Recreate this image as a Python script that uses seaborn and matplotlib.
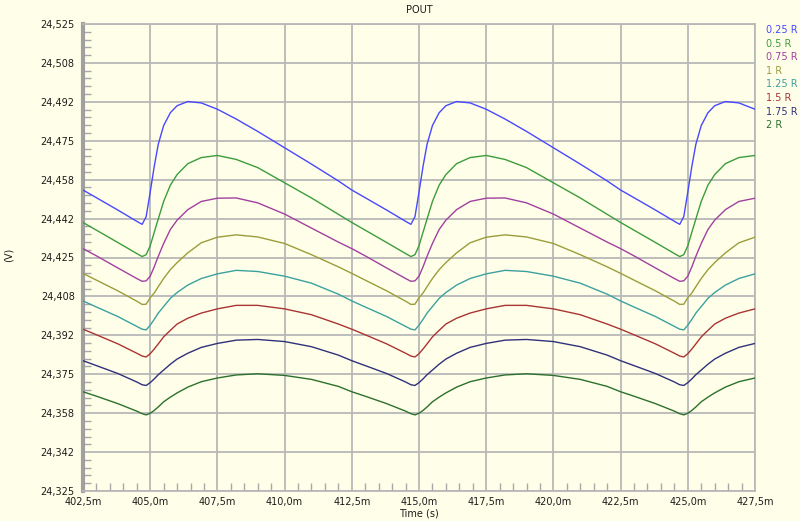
import numpy as np
import pandas as pd
import matplotlib
matplotlib.use('Agg')
import matplotlib.pyplot as plt
from matplotlib.ticker import AutoMinorLocator, FixedLocator
import seaborn as sns


# time axis in ms (denser around the switching dips)
TIME_MS = [
    402.5, 403.0, 403.8, 404.5, 404.7, 404.85, 405.0, 405.15, 405.3, 405.5,
    405.75, 406.0, 406.4, 406.9, 407.5, 408.2, 409.0, 410.0, 411.0, 412.0,
    412.5, 413.0, 413.8, 414.5, 414.7, 414.85, 415.0, 415.15, 415.3, 415.5,
    415.75, 416.0, 416.4, 416.9, 417.5, 418.2, 419.0, 420.0, 421.0, 422.0,
    422.5, 423.0, 423.8, 424.5, 424.7, 424.85, 425.0, 425.15, 425.3, 425.5,
    425.75, 426.0, 426.4, 426.9, 427.5,
]

# POUT (V) for each load
V_025R = [
    24.4539, 24.4506, 24.4453, 24.4405, 24.4392, 24.4425, 24.4530, 24.4640, 24.4735, 24.4815,
    24.4870, 24.4900, 24.4918, 24.4912, 24.4885, 24.4843, 24.4790, 24.4720, 24.4650, 24.4578,
    24.4539, 24.4506, 24.4453, 24.4405, 24.4392, 24.4425, 24.4530, 24.4640, 24.4735, 24.4815,
    24.4870, 24.4900, 24.4918, 24.4912, 24.4885, 24.4843, 24.4790, 24.4720, 24.4650, 24.4578,
    24.4539, 24.4506, 24.4453, 24.4405, 24.4392, 24.4425, 24.4530, 24.4640, 24.4735, 24.4815,
    24.4870, 24.4900, 24.4918, 24.4912, 24.4885,
]
V_05R = [
    24.4400, 24.4367, 24.4314, 24.4267, 24.4254, 24.4262, 24.4300, 24.4358, 24.4415, 24.4490,
    24.4560, 24.4605, 24.4652, 24.4678, 24.4687, 24.4670, 24.4635, 24.4570, 24.4505, 24.4435,
    24.4400, 24.4367, 24.4314, 24.4267, 24.4254, 24.4262, 24.4300, 24.4358, 24.4415, 24.4490,
    24.4560, 24.4605, 24.4652, 24.4678, 24.4687, 24.4670, 24.4635, 24.4570, 24.4505, 24.4435,
    24.4400, 24.4367, 24.4314, 24.4267, 24.4254, 24.4262, 24.4300, 24.4358, 24.4415, 24.4490,
    24.4560, 24.4605, 24.4652, 24.4678, 24.4687,
]
V_075R = [
    24.4288, 24.4257, 24.4205, 24.4160, 24.4148, 24.4150, 24.4170, 24.4210, 24.4255, 24.4310,
    24.4370, 24.4410, 24.4455, 24.4490, 24.4504, 24.4505, 24.4484, 24.4436, 24.4376, 24.4316,
    24.4288, 24.4257, 24.4205, 24.4160, 24.4148, 24.4150, 24.4170, 24.4210, 24.4255, 24.4310,
    24.4370, 24.4410, 24.4455, 24.4490, 24.4504, 24.4505, 24.4484, 24.4436, 24.4376, 24.4316,
    24.4288, 24.4257, 24.4205, 24.4160, 24.4148, 24.4150, 24.4170, 24.4210, 24.4255, 24.4310,
    24.4370, 24.4410, 24.4455, 24.4490, 24.4504,
]
V_1R = [
    24.4182, 24.4153, 24.4107, 24.4063, 24.4049, 24.4050, 24.4078, 24.4098, 24.4125, 24.4160,
    24.4198, 24.4228, 24.4270, 24.4313, 24.4337, 24.4347, 24.4338, 24.4310, 24.4262, 24.4210,
    24.4182, 24.4153, 24.4107, 24.4063, 24.4049, 24.4050, 24.4078, 24.4098, 24.4125, 24.4160,
    24.4198, 24.4228, 24.4270, 24.4313, 24.4337, 24.4347, 24.4338, 24.4310, 24.4262, 24.4210,
    24.4182, 24.4153, 24.4107, 24.4063, 24.4049, 24.4050, 24.4078, 24.4098, 24.4125, 24.4160,
    24.4198, 24.4228, 24.4270, 24.4313, 24.4337,
]
V_125R = [
    24.4064, 24.4038, 24.3997, 24.3955, 24.3943, 24.3940, 24.3960, 24.3985, 24.4012, 24.4040,
    24.4075, 24.4100, 24.4132, 24.4160, 24.4180, 24.4195, 24.4190, 24.4170, 24.4140, 24.4093,
    24.4064, 24.4038, 24.3997, 24.3955, 24.3943, 24.3940, 24.3960, 24.3985, 24.4012, 24.4040,
    24.4075, 24.4100, 24.4132, 24.4160, 24.4180, 24.4195, 24.4190, 24.4170, 24.4140, 24.4093,
    24.4064, 24.4038, 24.3997, 24.3955, 24.3943, 24.3940, 24.3960, 24.3985, 24.4012, 24.4040,
    24.4075, 24.4100, 24.4132, 24.4160, 24.4180,
]
V_15R = [
    24.3943, 24.3919, 24.3880, 24.3840, 24.3828, 24.3824, 24.3838, 24.3858, 24.3880, 24.3910,
    24.3938, 24.3965, 24.3990, 24.4012, 24.4030, 24.4045, 24.4045, 24.4030, 24.4005, 24.3965,
    24.3943, 24.3919, 24.3880, 24.3840, 24.3828, 24.3824, 24.3838, 24.3858, 24.3880, 24.3910,
    24.3938, 24.3965, 24.3990, 24.4012, 24.4030, 24.4045, 24.4045, 24.4030, 24.4005, 24.3965,
    24.3943, 24.3919, 24.3880, 24.3840, 24.3828, 24.3824, 24.3838, 24.3858, 24.3880, 24.3910,
    24.3938, 24.3965, 24.3990, 24.4012, 24.4030,
]
V_175R = [
    24.3808, 24.3787, 24.3753, 24.3717, 24.3705, 24.3702, 24.3714, 24.3730, 24.3748, 24.3768,
    24.3793, 24.3815, 24.3840, 24.3865, 24.3882, 24.3896, 24.3899, 24.3890, 24.3868, 24.3832,
    24.3808, 24.3787, 24.3753, 24.3717, 24.3705, 24.3702, 24.3714, 24.3730, 24.3748, 24.3768,
    24.3793, 24.3815, 24.3840, 24.3865, 24.3882, 24.3896, 24.3899, 24.3890, 24.3868, 24.3832,
    24.3808, 24.3787, 24.3753, 24.3717, 24.3705, 24.3702, 24.3714, 24.3730, 24.3748, 24.3768,
    24.3793, 24.3815, 24.3840, 24.3865, 24.3882,
]
V_2R = [
    24.3675, 24.3656, 24.3624, 24.3592, 24.3581, 24.3576, 24.3583, 24.3595, 24.3610, 24.3632,
    24.3652, 24.3670, 24.3695, 24.3718, 24.3734, 24.3747, 24.3752, 24.3745, 24.3728, 24.3698,
    24.3675, 24.3656, 24.3624, 24.3592, 24.3581, 24.3576, 24.3583, 24.3595, 24.3610, 24.3632,
    24.3652, 24.3670, 24.3695, 24.3718, 24.3734, 24.3747, 24.3752, 24.3745, 24.3728, 24.3698,
    24.3675, 24.3656, 24.3624, 24.3592, 24.3581, 24.3576, 24.3583, 24.3595, 24.3610, 24.3632,
    24.3652, 24.3670, 24.3695, 24.3718, 24.3734,
]

SERIES = ['0.25 R', '0.5 R', '0.75 R', '1 R', '1.25 R', '1.5 R', '1.75 R', '2 R']
COLORS = ['#4848ff', '#3c9c3c', '#a040a0', '#9c9c3c', '#3ca0a0', '#a83434', '#30307c', '#2c702c']

Y_TICKS = np.linspace(24.325, 24.525, 13)
X_TICKS = np.arange(402.5, 427.6, 2.5)

BG = '#ffffe9'
GRID = '#b8b8b8'
TXT = '#1c1c1c'


frames = []
for name, vals in zip(SERIES, [V_025R, V_05R, V_075R, V_1R, V_125R, V_15R, V_175R, V_2R]):
    frames.append(pd.DataFrame({'t': TIME_MS, 'v': vals, 'series': name}))
df = pd.concat(frames, ignore_index=True)

sns.set_style('white', rc={'axes.facecolor': BG, 'figure.facecolor': BG})
plt.rcParams['font.family'] = ['DejaVu Sans']

fig = plt.figure(figsize=(8, 5.21), dpi=100, facecolor=BG)
ax = fig.add_axes([83 / 800, 1 - 491 / 521, 672 / 800, 467 / 521])

sns.lineplot(data=df, x='t', y='v', hue='series', hue_order=SERIES,
             palette=COLORS, estimator=None, sort=False, lw=1.0,
             legend=False, ax=ax, zorder=3)

ax.set_xlim(402.5, 427.5)
ax.set_ylim(24.325, 24.525)
ax.yaxis.set_major_locator(FixedLocator(Y_TICKS))
ax.xaxis.set_major_locator(FixedLocator(X_TICKS))
ax.set_yticklabels([f'{v:.3f}'.replace('.', ',') for v in Y_TICKS])
ax.set_xticklabels([f'{v:.1f}m'.replace('.', ',') for v in X_TICKS])
ax.xaxis.set_minor_locator(AutoMinorLocator(5))
ax.yaxis.set_minor_locator(AutoMinorLocator(5))

ax.grid(True, which='major', color=GRID, lw=1.3, zorder=1)
# seaborn's white style switches ticks off, turn them back on
ax.tick_params(which='both', bottom=True, left=True, top=False, right=False)
ax.tick_params(which='major', length=0, labelsize=7, colors=TXT)
ax.tick_params(axis='y', which='major', pad=6)
ax.tick_params(axis='x', which='major', pad=4)
ax.tick_params(which='minor', direction='in', length=6, width=1.0, color='#a8a8a8')

for side in ['top', 'right', 'bottom']:
    ax.spines[side].set_color(GRID)
    ax.spines[side].set_linewidth(1.3)
ax.spines['left'].set_color('#a0a0a0')
ax.spines['left'].set_linewidth(3)

ax.set_xlabel('')
ax.set_ylabel('')
fig.text(419 / 800, 1 - 10 / 521, 'POUT', ha='center', va='center', fontsize=7, color=TXT)
fig.text(419 / 800, 1 - 513 / 521, 'Time (s)', ha='center', va='center', fontsize=7, color=TXT)
fig.text(9 / 800, 1 - 255 / 521, '(V)', ha='center', va='center', rotation=90, fontsize=7, color=TXT)

# legend as coloured labels on the right
for i, (name, c) in enumerate(zip(SERIES, COLORS)):
    fig.text(766 / 800, 1 - (30 + 13.6 * i) / 521, name, ha='left', va='center',
             fontsize=7, color=c)

fig.savefig('out.png', dpi=100, facecolor=BG)
